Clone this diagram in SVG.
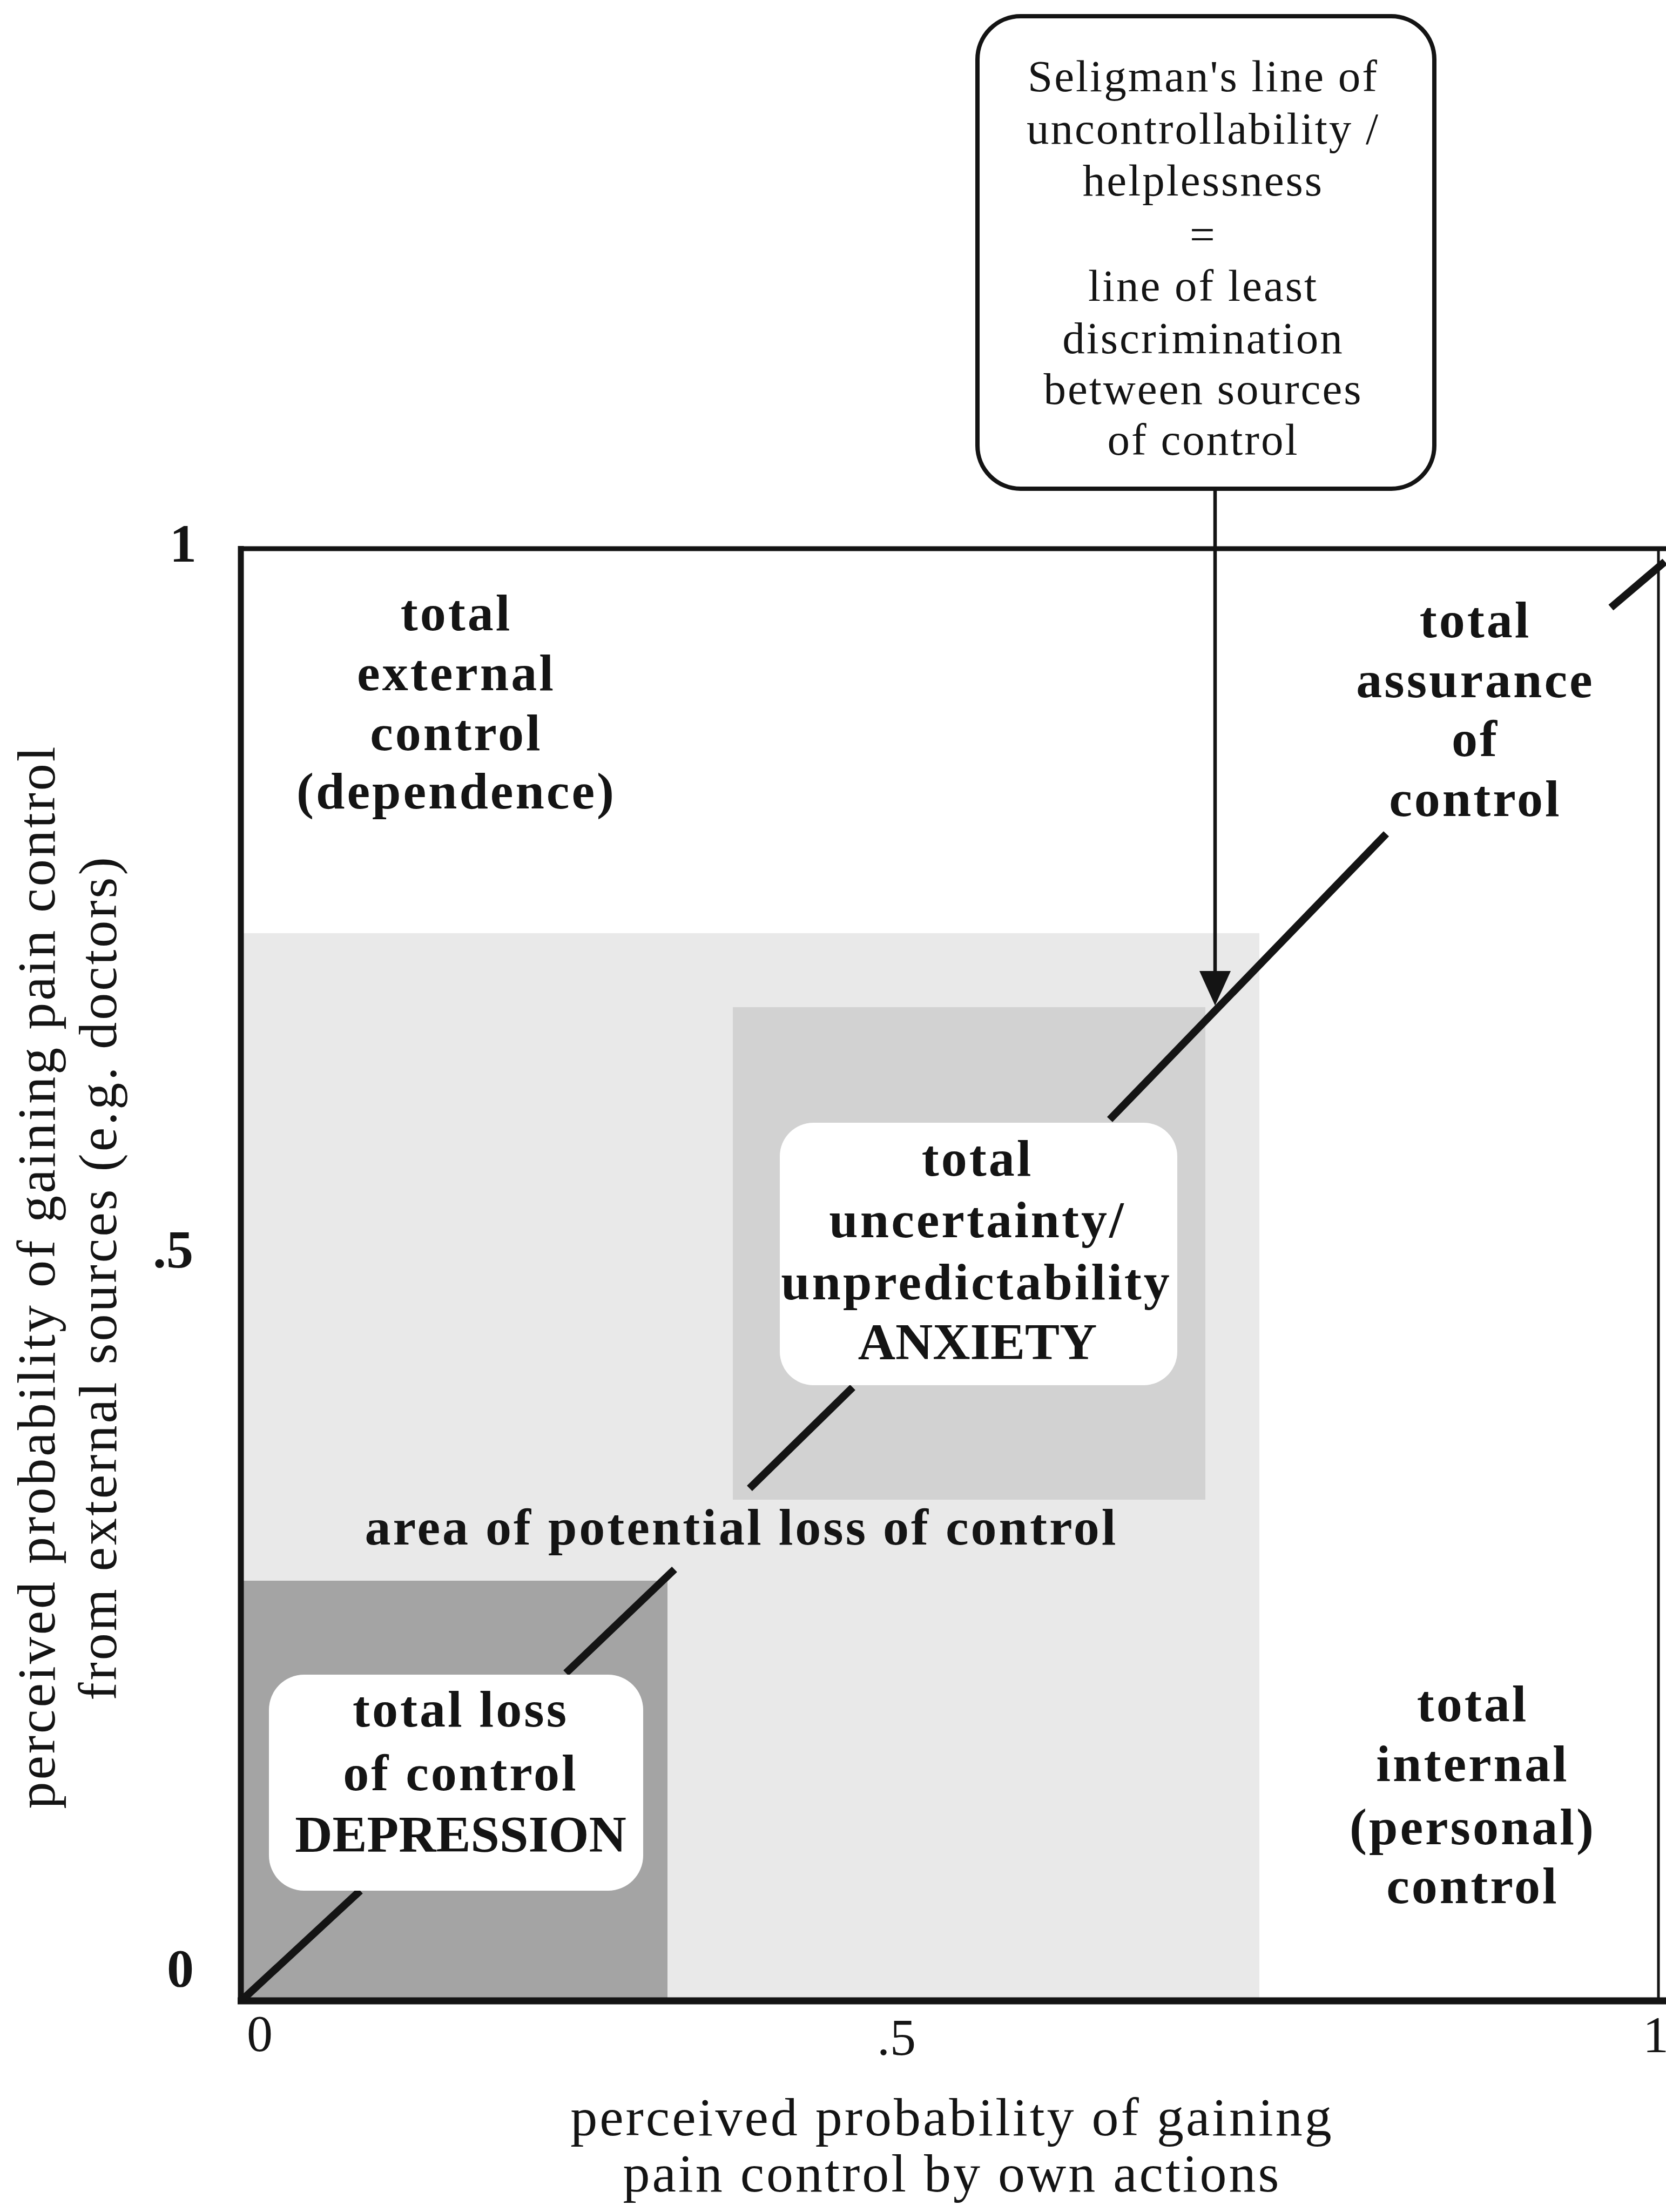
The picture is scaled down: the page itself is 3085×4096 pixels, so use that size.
<svg xmlns="http://www.w3.org/2000/svg" width="3085" height="4096" viewBox="0 0 3085 4096">
<defs>
<style>
.b{font-family:"Liberation Serif","Times New Roman",serif;font-weight:bold;font-size:96px;letter-spacing:4px;text-anchor:middle;fill:#141414}
.caps{letter-spacing:0px}
.r{font-family:"Liberation Serif","Times New Roman",serif;font-size:100px;letter-spacing:4px;text-anchor:middle;fill:#141414}
.s{font-family:"Liberation Serif","Times New Roman",serif;font-size:83px;letter-spacing:3px;text-anchor:middle;fill:#141414}
.tb{font-family:"Liberation Serif","Times New Roman",serif;font-weight:bold;font-size:100px;fill:#141414}
.tr{font-family:"Liberation Serif","Times New Roman",serif;font-size:96px;text-anchor:middle;fill:#141414}
.diag{stroke:#141414;stroke-width:14;fill:none}
.frame{stroke:#141414;fill:none}
.halo{fill:#ffffff;stroke:none}
</style>
<marker id="arrow" viewBox="0 0 64 58" refX="0" refY="29" markerWidth="64" markerHeight="58" markerUnits="userSpaceOnUse" orient="auto">
<path d="M0,0 L64,29 L0,58 Z" fill="#141414"/>
</marker>
</defs>
<rect x="0" y="0" width="3085" height="4096" fill="#ffffff"/>

<g id="regions">
<rect id="region-potential-loss" x="446" y="1728" width="1886" height="1977" fill="#e9e9e9"/>
<rect id="region-anxiety" x="1357" y="1865" width="875" height="912" fill="#d2d2d2"/>
<rect id="region-depression" x="446" y="2927" width="790" height="778" fill="#a4a4a4"/>
</g>

<g id="frame">
<line class="frame" x1="441" y1="1016" x2="3085" y2="1016" stroke-width="9"/>
<line class="frame" x1="446" y1="1011" x2="446" y2="3711" stroke-width="11"/>
<line class="frame" x1="440" y1="3705" x2="3085" y2="3705" stroke-width="13"/>
<line class="frame" x1="3071" y1="1016" x2="3071" y2="3705" stroke-width="5"/>
</g>

<g id="ticks">
<text class="tb" x="339" y="1040" text-anchor="middle">1</text>
<text class="tb" x="358" y="2347" text-anchor="end">.5</text>
<text class="tb" x="334" y="3678" text-anchor="middle">0</text>
<text class="tr" x="481" y="3798">0</text>
<text class="tr" x="1660" y="3805">.5</text>
<text class="tr" x="3066" y="3800">1</text>
</g>

<g id="axis-labels">
<text class="r" transform="translate(101,2364) rotate(-90)">perceived probability of gaining pain control</text>
<text class="r" transform="translate(215,2366) rotate(-90)">from external sources (e.g. doctors)</text>
<text class="r" x="1763" y="3954">perceived probability of gaining</text>
<text class="r" x="1763" y="4058">pain control by own actions</text>
</g>

<g id="connectors">
<line class="diag" x1="452" y1="3700" x2="667" y2="3501"/>
<line class="diag" x1="1048" y1="3098" x2="1249" y2="2906"/>
<line class="diag" x1="1388" y1="2756" x2="1579" y2="2569"/>
<line class="diag" x1="2055" y1="2073" x2="2567" y2="1544"/>
<line class="diag" x1="2983" y1="1125" x2="3083" y2="1040"/>
<line id="seligman-pointer" x1="2250" y1="905" x2="2250" y2="1798" stroke="#141414" stroke-width="6.5" marker-end="url(#arrow)"/>
</g>

<g id="node-seligman">
<rect x="1810" y="30" width="846" height="875" rx="80" ry="80" fill="#ffffff" stroke="#141414" stroke-width="8"/>
<text class="s" x="2228" y="169">Seligman's line of</text>
<text class="s" x="2228" y="266">uncontrollability /</text>
<text class="s" x="2228" y="362">helplessness</text>
<text class="s" x="2228" y="462">=</text>
<text class="s" x="2228" y="557">line of least</text>
<text class="s" x="2228" y="654">discrimination</text>
<text class="s" x="2228" y="748">between sources</text>
<text class="s" x="2228" y="842">of control</text>
</g>

<g id="node-external">
<text class="b" x="845" y="1167">total</text>
<text class="b" x="845" y="1278">external</text>
<text class="b" x="845" y="1389">control</text>
<text class="b" x="845" y="1497">(dependence)</text>
</g>

<g id="node-assurance">
<text class="b" x="2732" y="1180">total</text>
<text class="b" x="2732" y="1291">assurance</text>
<text class="b" x="2732" y="1400">of</text>
<text class="b" x="2732" y="1511">control</text>
</g>

<g id="node-anxiety">
<rect class="halo" x="1444" y="2079" width="736" height="486" rx="62" ry="62"/>
<text class="b" x="1810" y="2177">total</text>
<text class="b" x="1810" y="2291">uncertainty/</text>
<text class="b" x="1808" y="2406">unpredictability</text>
<text class="b caps" x="1810" y="2517">ANXIETY</text>
</g>

<g id="node-area">
<text class="b" x="1373" y="2860">area of potential loss of control</text>
</g>

<g id="node-depression">
<rect class="halo" x="498" y="3101" width="693" height="400" rx="65" ry="65"/>
<text class="b" x="853" y="3197">total loss</text>
<text class="b" x="853" y="3315">of control</text>
<text class="b caps" x="853" y="3429">DEPRESSION</text>
</g>

<g id="node-internal">
<text class="b" x="2727" y="3187">total</text>
<text class="b" x="2727" y="3298">internal</text>
<text class="b" x="2727" y="3415">(personal)</text>
<text class="b" x="2727" y="3524">control</text>
</g>
</svg>
